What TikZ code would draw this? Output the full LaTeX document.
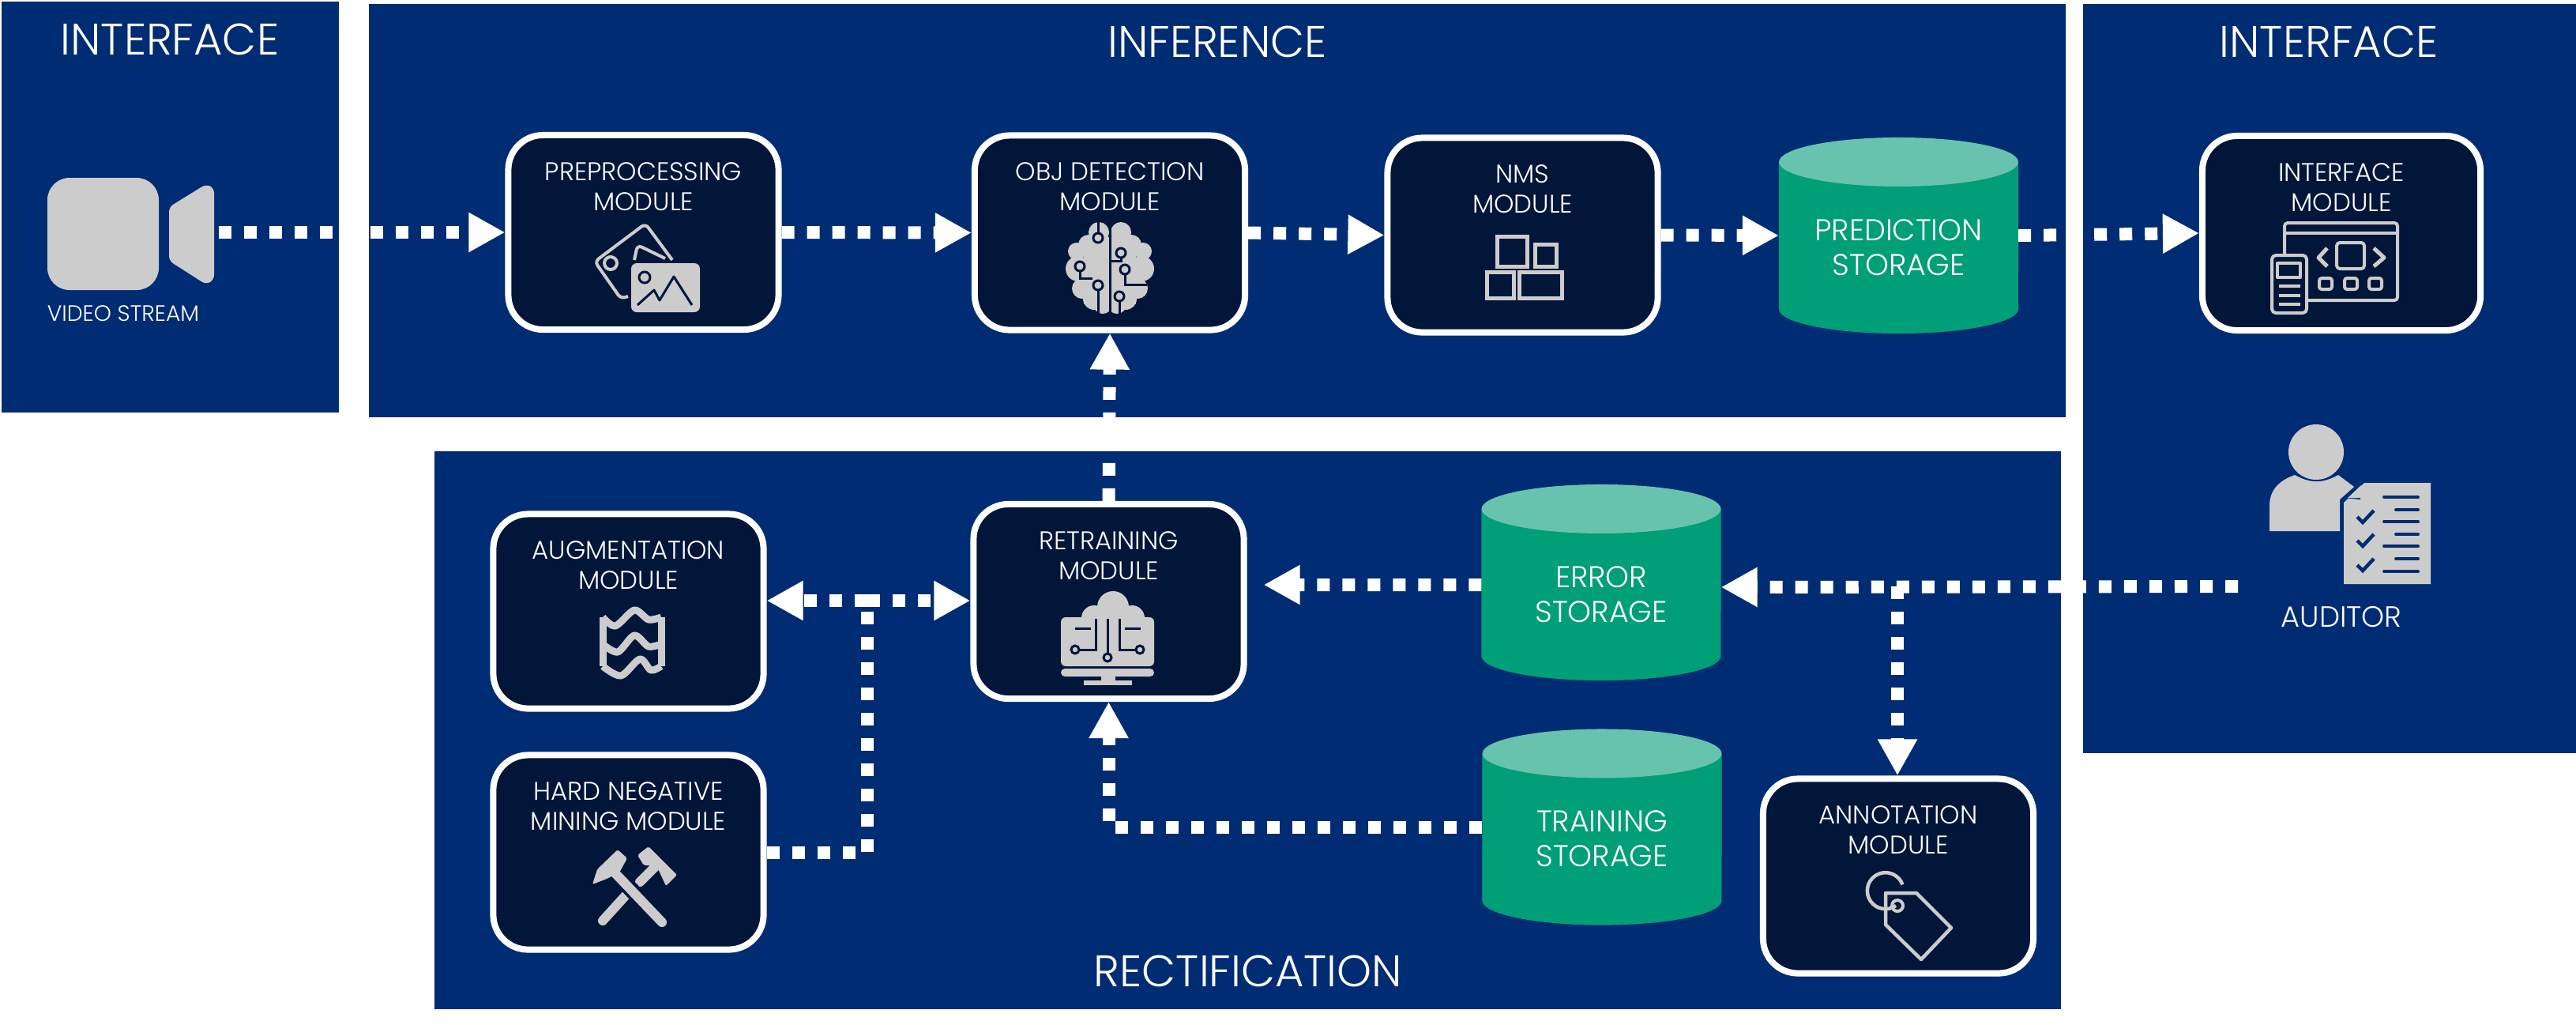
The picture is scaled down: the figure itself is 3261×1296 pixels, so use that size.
\documentclass[tikz,border=0pt]{standalone}
\usepackage{fontspec}
\setmainfont{Poppins}[UprightFont=* Light]
\usetikzlibrary{arrows.meta}
\definecolor{panelblue}{HTML}{002C73}
\definecolor{boxnavy}{HTML}{011639}
\definecolor{storegreen}{HTML}{009F78}
\definecolor{storetop}{HTML}{67C3AD}
\definecolor{icongray}{HTML}{CCCCCC}
\tikzset{
	modbox/.style={draw=white,fill=boxnavy,line width=.08cm,rounded corners=.44cm,minimum height=2.46cm},
	modlabel/.style={text=white,align=center,inner sep=0pt,font=\fontsize{9.2}{10.8}\selectfont},
	storage/.style={inner sep=0pt,outer sep=0pt,minimum width=3.03cm,minimum height=2.48cm},
	storelabel/.style={text=white,align=center,inner sep=0pt,font=\fontsize{10.8}{12.5}\selectfont},
	paneltitle/.style={text=white,inner sep=0pt,font=\fontsize{15.9}{19}\selectfont},
	flow/.style={draw=white,line width=.16cm,dash pattern=on .16cm off .16cm},
	flowtip/.style={flow,-{Triangle[length=.46cm,width=.47cm,fill=white]}},
	iconline/.style={draw=icongray,line width=.04cm,line join=round},
	darkline/.style={draw=boxnavy,line width=.03cm}
}
\begin{document}
\begin{tikzpicture}[x=.01cm,y=-.01cm]
	\useasboundingbox (0,0) rectangle (3261,1296);
	\foreach \xa/\ya/\xb/\yb in {2/2/429/522,
							467/5/2615/528,
							2637/5/3261/953,
							550/571/2609/1277}
		\fill[panelblue] (\xa,\ya) rectangle (\xb,\yb);
	\node[paneltitle] (titleleft) at (215,50) {INTERFACE};
	\node[paneltitle] (titleinf) at (1541,53) {INFERENCE};
	\node[paneltitle] (titleright) at (2948,53) {INTERFACE};
	\node[paneltitle] (titlerect) at (1580,1229) {RECTIFICATION};

	\foreach \id/\x/\y/\bw/\txt in {pre/814.5/294/3.42/{PREPROCESSING\\MODULE},
							obj/1405/294.5/3.42/{OBJ DETECTION\\MODULE},
							nms/1927.5/297.5/3.42/{NMS\\MODULE},
							ifm/2964/295/3.52/{INTERFACE\\MODULE},
							aug/795.5/773.5/3.42/{AUGMENTATION\\MODULE},
							hard/795.5/1078.5/3.42/{HARD NEGATIVE\\MINING MODULE},
							retr/1403.5/761/3.42/{RETRAINING\\MODULE},
							annot/2403/1108.5/3.42/{ANNOTATION\\MODULE}}{
		\node[modbox,minimum width=\bw cm] (\id) at (\x,\y) {};
		\node[modlabel] (\id-txt) at ([yshift=-.69cm]\id.north) {\txt};
	}
	\foreach \id/\x/\y/\txt in {pred/2403.5/298/{PREDICTION\\STORAGE},
							err/2027/737/{ERROR\\STORAGE},
							train/2028/1046.5/{TRAINING\\STORAGE}}{
		\node[storage] (\id) at (\x,\y) {};
		\fill[storegreen] ([yshift=-.31cm]\id.north west) -- ([yshift=.31cm]\id.south west) arc (180:0:151.5 and 31) -- ([yshift=-.31cm]\id.north east) -- cycle;
		\fill[storetop] ([yshift=-.31cm]\id.north) ellipse (151.5 and 31);
		\node[storelabel] (\id-txt) at ([yshift=-.15cm]\id.center) {\txt};
	}
	\node[text=white,inner sep=0pt,font=\fontsize{8}{10}\selectfont] (videotxt) at (156,397) {VIDEO STREAM};
	\node[text=white,inner sep=0pt,font=\fontsize{10.5}{12}\selectfont] (audtxt) at (2964,781) {AUDITOR};

	% connectors
	\coordinate (cam) at (277,294);
	\coordinate (aud) at (2833,742);
	\coordinate (fork) at (2402,742);
	\coordinate (knee) at (1098,760);
	\draw[flowtip] (cam) -- (pre.west);
	\draw[flowtip] (pre.east) -- (obj.west);
	\draw[flowtip] (obj.east) -- (nms.west);
	\draw[flowtip] (nms.east) -- (pred.west);
	\draw[flowtip] (pred.east) -- (ifm.west);
	\draw[flowtip] (retr.north) -- (obj.south);
	\draw[flowtip] (aud) -- ([yshift=-.06cm]err.east);
	\draw[flowtip] (fork) -- (fork |- annot.north);
	\draw[flowtip,shorten >=.21cm] ([yshift=-.03cm]err.west) -- (retr.east |- 0,740);
	\draw[flowtip] (train.west) -- (retr.south |- train.west) -- (retr.south);
	\draw[flowtip] (knee) -- (aug.east |- knee);
	\draw[flowtip] (knee) -- (retr.west |- knee);
	\draw[flow] (hard.east) -- (knee |- hard.east) -- (knee);

	% camera
	\fill[icongray,rounded corners=.28cm] (60,225) rectangle (201,367);
	\fill[icongray,rounded corners=.06cm] (214,262) -- (261,233) -- (271,238) -- (271,354) -- (261,360) -- (214,330) -- cycle;

	% photos
	\draw[iconline,rounded corners=.06cm] (803,329) -- (807,310) -- (842,327);
	\draw[iconline,rounded corners=.06cm] (851,329) -- (817,283) -- (753,331) -- (786,378) -- (795,375);
	\draw[iconline] (773,333) circle (8);
	\fill[icongray,rounded corners=.07cm] (799,333) rectangle (886,395);
	\draw[darkline,line join=round] (807,386) -- (828,367) -- (835,380) -- (853,350) -- (876,386);
	\draw[darkline] (816,351) circle (7);

	% brain
	\foreach \x/\y/\r in {1391/294/13,1378/310/13,1363/318/11,1365/340/16,1370/365/13,1385/378/14,1396/385/12,
						1419/294/13,1432/310/13,1447/318/11,1445/340/16,1440/365/13,1425/378/14,1414/385/12}
		\fill[icongray] (\x,\y) circle (\r);
	\fill[icongray] (1372,300) rectangle (1438,385);
	\draw[darkline] (1405,279) -- (1405,399);
	\draw[darkline] (1390,281) -- (1390,294) (1367,344) -- (1367,352) -- (1383,352) (1390,368) -- (1390,397);
	\draw[darkline] (1419,327) -- (1419,330) -- (1405,330) (1424,348) -- (1424,360) -- (1452,360);
	\draw[darkline] (1417,382) -- (1417,397);
	\foreach \x/\y in {1390/301,1419/320,1367/337,1424/341,1390/361,1417/375}
		\draw[darkline,fill=icongray] (\x,\y) circle (6);

	% boxes
	\foreach \xa/\ya/\xb/\yb in {1895/299/1933/337,1943/309/1970/337,1882/344/1916/377,1923/344/1977/377}
		\draw[icongray,line width=.05cm] (\xa,\ya) rectangle (\xb,\yb);

	% window with phone
	\draw[iconline,rounded corners=.04cm] (2892,323) -- (2892,282) -- (3035,282) -- (3035,380) -- (2920,380);
	\draw[iconline] (2892,295) -- (3035,295);
	\draw[iconline,rounded corners=.05cm] (2876,323) rectangle (2920,396);
	\draw[iconline] (2883,333) rectangle (2912,351);
	\foreach \y in {362,374,385}
		\draw[iconline] (2885,\y) -- (2912,\y);
	\draw[iconline,rounded corners=.04cm] (2958,307) rectangle (2993,340);
	\draw[iconline,line width=.05cm] (2946,314) -- (2935,326) -- (2946,337);
	\draw[iconline,line width=.05cm] (3005,314) -- (3018,326) -- (3005,337);
	\foreach \x in {2944,2976,3007}
		\draw[iconline,rounded corners=.03cm] (\x-8,352) rectangle (\x+8,366);

	% auditor
	\fill[icongray] (2932,572) circle (35);
	\fill[icongray] (2873,672) -- (2873,640) .. controls (2873,620) and (2885,608) .. (2905,601) .. controls (2925,612) and (2940,612) .. (2960,601) -- (2980,616) -- (2962,632) -- (2962,672) -- cycle;
	\fill[icongray] (2967,636) -- (2993,611) -- (3077,611) -- (3077,739) -- (2967,739) -- cycle;
	\fill[panelblue] (2967,630) -- (2988,610) -- (2988,632) -- cycle;
	\fill[icongray] (2972,630) -- (2989,614) -- (2989,630) -- cycle;
	\foreach \y in {654,684,715}
		\draw[panelblue,line width=.045cm] (2984,\y) -- (2991,\y+7) -- (3005,\y-8);
	\foreach \y in {629,660,691,723}
		\draw[panelblue,line width=.04cm,line cap=round] (3018,\y) -- (3061,\y);
	\foreach \y in {645,676,707}
		\draw[panelblue,line width=.04cm,line cap=round] (3033,\y) -- (3061,\y);

	% wave
	\draw[icongray,line width=.09cm,line join=round] plot[smooth] coordinates {(763,781) (779,792) (803,772) (821,784) (837,781)};
	\draw[icongray,line width=.09cm,line join=round] plot[smooth] coordinates {(763,815) (782,825) (803,804) (821,818) (837,815)};
	\draw[icongray,line width=.09cm,line join=round] plot[smooth] coordinates {(763,843) (786,855) (810,834) (824,848) (837,843)};
	\draw[icongray,line width=.09cm] (763,781) -- (763,843) (837,781) -- (837,843);

	% cloud on monitor
	\foreach \x/\y/\r in {1409/768/20,1385/782/16,1433/782/16}
		\fill[icongray] (\x,\y) circle (\r);
	\fill[icongray,rounded corners=.06cm] (1343,781) rectangle (1461,843);
	\fill[icongray,rounded corners=.05cm] (1343,846) rectangle (1461,856);
	\fill[icongray] (1394,856) rectangle (1412,861);
	\fill[icongray] (1372,861) rectangle (1433,867);
	\draw[darkline] (1361,795) -- (1381,795) (1424,795) -- (1444,795);
	\draw[darkline] (1387,783) -- (1387,822) -- (1361,822);
	\draw[darkline] (1417,783) -- (1417,822) -- (1443,822);
	\draw[darkline] (1402,783) -- (1402,832);
	\foreach \x/\y in {1361/822,1443/822,1402/832}
		\draw[darkline,fill=icongray] (\x,\y) circle (5);

	% hammers
	\draw[icongray,line width=.12cm,line cap=round] (763,1165) -- (793,1132) (810,1116) -- (831,1095);
	\fill[icongray,rounded corners=.02cm] (807,1082) -- (821,1071) -- (857,1107) -- (843,1121) -- (831,1095) -- (815,1095) -- cycle;
	\draw[boxnavy,line width=.2cm] (773,1098) -- (842,1171);
	\draw[icongray,line width=.12cm,line cap=round] (776,1102) -- (838,1167);
	\fill[icongray,rounded corners=.02cm] (750,1119) -- (756,1100) -- (782,1075) -- (794,1086) -- (784,1104) -- (768,1112) -- cycle;

	% tag
	\draw[icongray,line width=.045cm] (2400,1146) arc (55:340:23 and 23);
	\draw[icongray,line width=.045cm,line join=round] (2387,1130) -- (2426,1130) -- (2470,1174) -- (2432,1214) -- (2387,1170) -- cycle;
	\draw[icongray,line width=.04cm] (2402,1146) circle (7);
\end{tikzpicture}
\end{document}
